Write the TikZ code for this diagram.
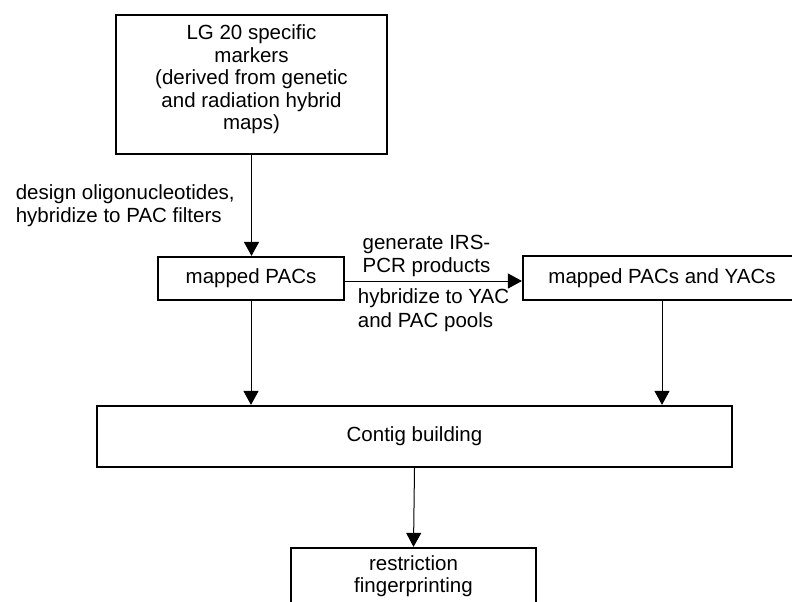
\documentclass[tikz,border=0pt]{standalone}
\usepackage{fontspec}
\setmainfont{Liberation Sans}
\usetikzlibrary{arrows.meta,positioning}
\definecolor{ink}{RGB}{0,0,0}
\tikzset{
  >={Triangle[length=14pt,width=15pt]},
  box/.style={draw=ink,line width=2.2pt,fill=white,align=center,inner sep=0pt,
    font=\fontsize{20.5}{22.5}\selectfont},
  flow/.style={->,line width=1pt,draw=ink},
  tag/.style={font=\fontsize{20.5}{23.5}\selectfont,align=left,text=ink},
}

\begin{document}
\begin{tikzpicture}[x=1pt,y=-1pt]
  \clip (0,0) rectangle (792,602);
  % boxes
  \node[box,minimum width=271pt,minimum height=139pt] (markers) at (251.5,84.5)
    {LG 20 specific\\markers\\(derived from genetic\\and radiation hybrid\\maps)\\[-8pt]};
  \node[box,minimum width=186pt,minimum height=43pt] (pacs) at (251,278.5) {mapped PACs};
  \node[box,minimum width=278pt,minimum height=44pt] (both) at (662,278) {mapped PACs and YACs};
  \node[box,minimum width=635pt,minimum height=61pt] (contig) at (414.5,436.5) {Contig building};
  \node[box,minimum width=245pt,minimum height=56pt] (finger) at (413.5,576) {restriction\\fingerprinting};
  % arrows
  \draw[flow] (markers.south) -- node[tag,left=13pt]{design oligonucleotides,\\hybridize to PAC filters} (markers.south |- pacs.north);
  \draw[flow] ([yshift=-2.5pt]pacs.east) -- node[tag,above=0pt,xshift=-7pt]{generate IRS-\\PCR products}
    node[tag,below=4pt]{hybridize to YAC\\and PAC pools} ([yshift=-2.5pt]pacs.east -| both.west);
  \draw[flow] (pacs.south) -- (pacs.south |- contig.north);
  \draw[flow] (both.south) -- (both.south |- contig.north);
  \draw[flow] (contig.south) -- (finger.north);
\end{tikzpicture}
\end{document}
